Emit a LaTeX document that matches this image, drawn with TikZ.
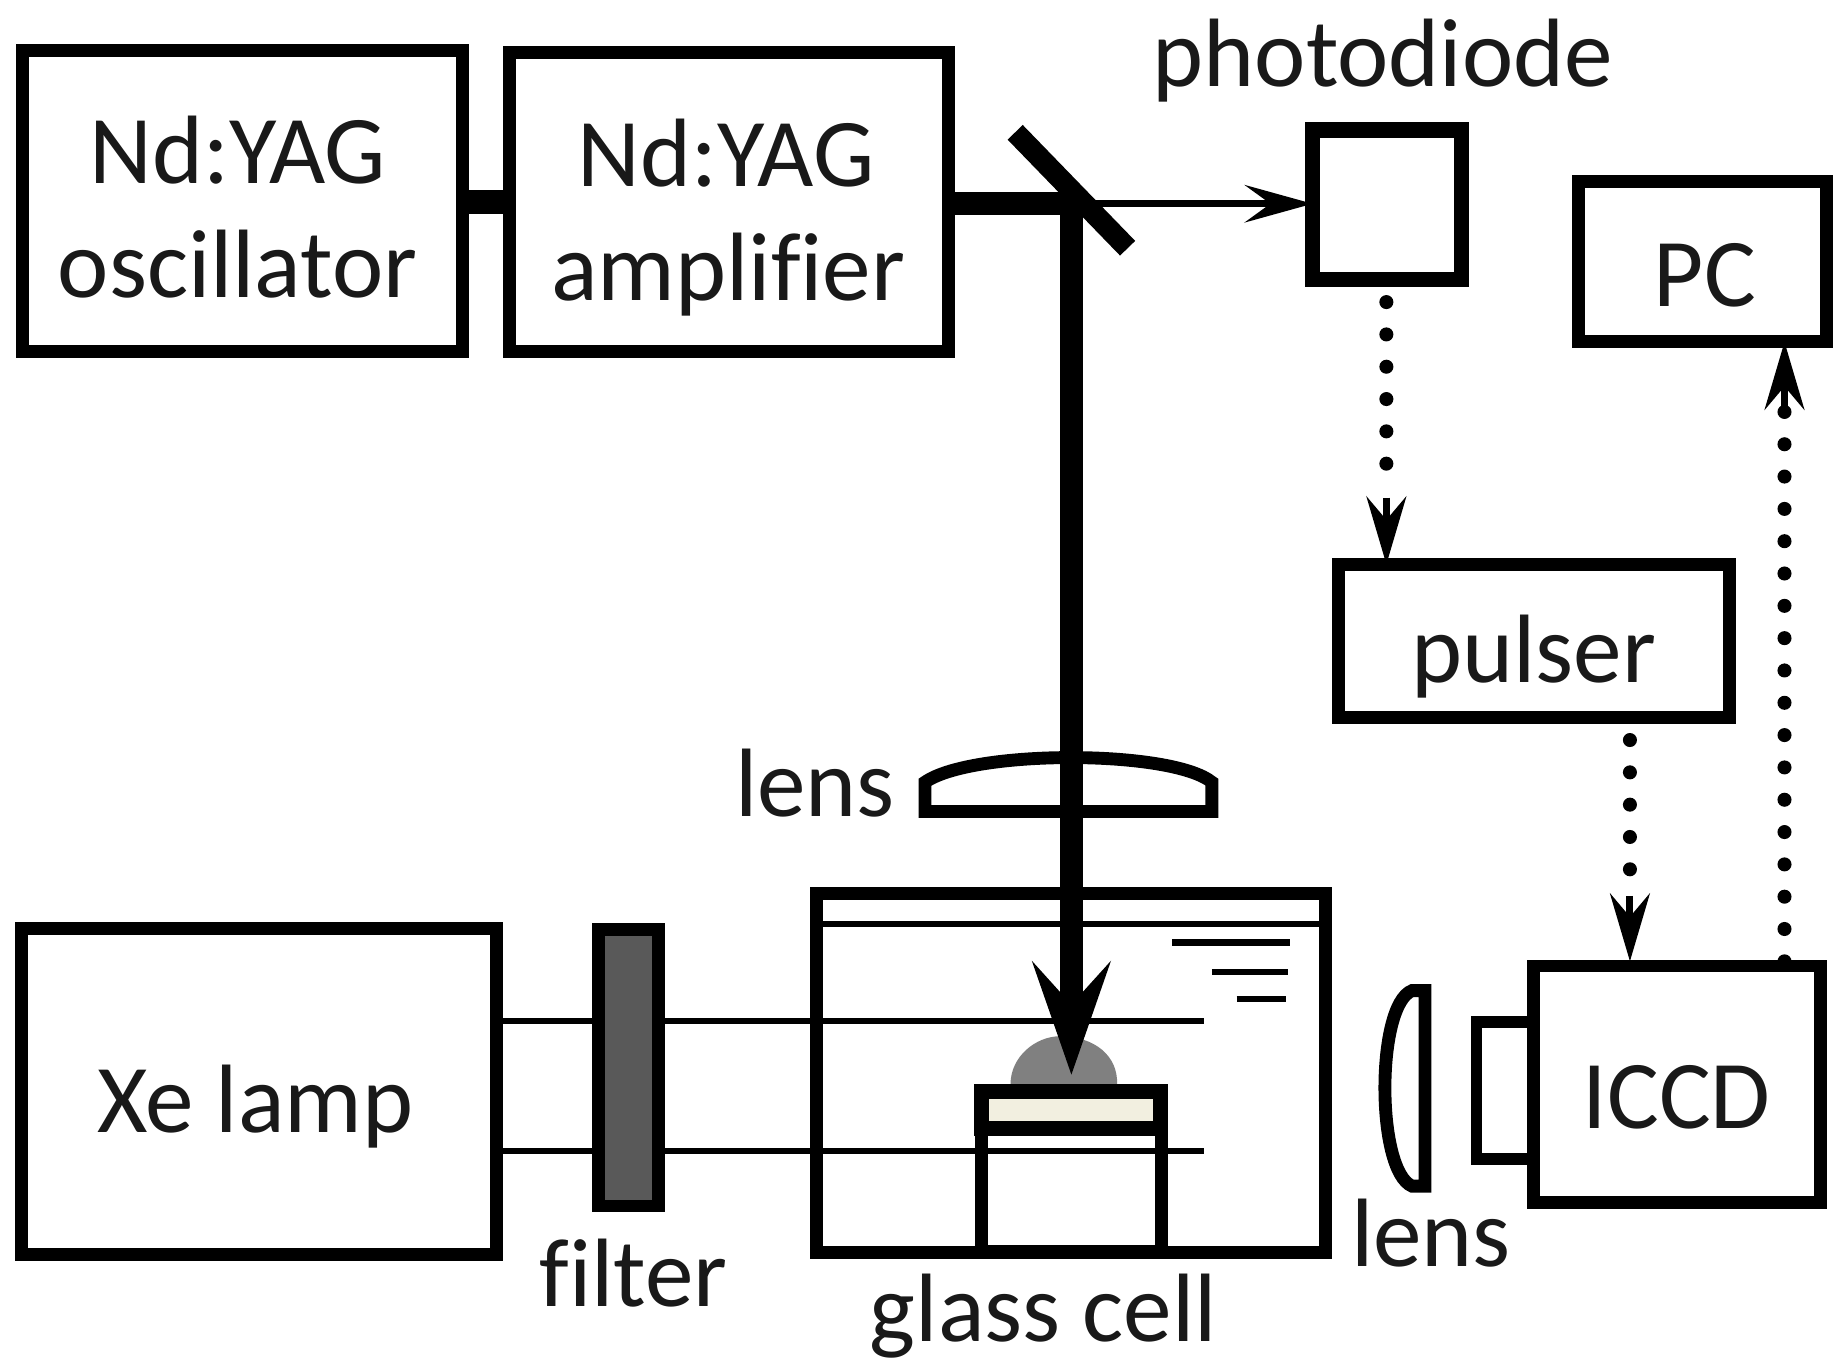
\documentclass[tikz,border=0pt]{standalone}
\usepackage{fontspec}
\setmainfont{Carlito}[Ligatures=NoCommon]
\usetikzlibrary{arrows.meta,calc}
\definecolor{plume}{HTML}{808080}
\definecolor{filterfill}{HTML}{595959}
\definecolor{samplefill}{HTML}{F2EFE0}
\tikzset{
  boxnode/.style={draw=black,line width=5.5pt,inner sep=0pt,outer sep=0pt,rectangle},
  label text/.style={font=\fontsize{41.5}{41.5}\selectfont,anchor=base,inner sep=0pt,text=black!90},
  thin beam/.style={line width=2.8pt},
  thick beam/.style={line width=10pt},
  signal/.style={line width=6pt,line cap=round,dash pattern=on 0pt off 13.8pt},
  sighead/.style={-{Stealth[length=29pt,width=17pt,inset=10pt]}},
}
\begin{document}
\begin{tikzpicture}[x=0.5pt,y=-0.5pt]
\useasboundingbox (0,0) rectangle (1568,1166);
\fill[white] (0,0) rectangle (1568,1166);
% boxes
\node[boxnode,minimum width=188pt,minimum height=128.5pt] (osc) at (207,171.5) {};
\node[boxnode,minimum width=187.5pt,minimum height=127.5pt] (amp) at (622.5,172.5) {};
\node[boxnode,line width=6.5pt,minimum width=63.5pt,minimum height=64pt] (pd) at (1184.5,175) {};
\node[boxnode,minimum width=106pt,minimum height=68.5pt] (pc) at (1454,223.5) {};
\node[boxnode,minimum width=167pt,minimum height=65.5pt] (pulser) at (1310,547.5) {};
\node[boxnode,minimum width=122.5pt,minimum height=101pt] (iccd) at (1432.5,926) {};
\node[boxnode,minimum width=203pt,minimum height=139pt] (xe) at (221,932) {};
\node[boxnode,minimum width=217.5pt,minimum height=153.5pt] (cell) at (914.5,916.5) {};
% coordinates
\coordinate (split) at (915,174);
\coordinate (mirA) at (867,113);
\coordinate (mirB) at (963,212);
\coordinate (target) at (915,918);
\coordinate (probeA) at (1028,872);
\coordinate (probeB) at (1028,983);
\coordinate (iccdin) at (1392,821);
\coordinate (iccdout) at (1524,821);
% glass cell details
\draw[thin beam] (cell.west |- 0,789) -- (cell.east |- 0,789);
\draw[thin beam] (1001,805) -- (1102,805);
\draw[thin beam] (1035,830) -- (1100,830);
\draw[thin beam] (1056,853) -- (1098,853);
% probe light
\draw[thin beam] (xe.east |- probeA) -- (probeA);
\draw[thin beam] (xe.east |- probeB) -- (probeB);
\node[boxnode,fill=filterfill,minimum width=25.5pt,minimum height=118pt] (filter) at (536.5,912) {};
% plume
\fill[plume] (863,926) .. controls (863,902) and (885,885) .. (905,885) .. controls (935,885) and (955,902) .. (954,926) -- cycle;
% sample holder
\node[boxnode,line width=5.5pt,minimum width=77pt,minimum height=52pt] (stand) at (915,1017) {};
\node[boxnode,line width=6.5pt,fill=samplefill,minimum width=76.5pt,minimum height=16pt] (sample) at (914.5,948) {};
% lenses
\draw[line width=5.5pt,miter limit=3] (790,693) -- (790,668) .. controls (830,640) and (1000,640) .. (1035,668) -- (1035,693) -- cycle;
\draw[line width=5.5pt,miter limit=3] (1217,846) -- (1217,1013) -- (1206,1013) .. controls (1175,1000) and (1175,858) .. (1206,846) -- cycle;
% camera tube
\draw[line width=5pt] (iccd.west |- 0,873) -- (1261,873) -- (1261,990) -- (iccd.west |- 0,990);
% beams
\draw[line width=10pt] (osc.east |- amp.center) -- (amp.west);
\draw[thick beam] (amp.east |- split) -- (split);
\draw[thick beam,-{Stealth[length=48pt,width=33pt,inset=18pt]}] ($(split)+(0,-5)$) -- (target);
\draw[line width=9pt] (mirA) -- (mirB);
\draw[thin beam,-{Stealth[length=29pt,width=16pt,inset=11pt]}] (935,174) -- (pd.west |- split);
% signals
\draw[signal] (pd.south -| 1184,0) ++(0,19) -- (1184,415);
\draw[sighead,line width=3pt] (1184,425) -- (pulser.north -| 1184,0);
\draw[signal] (pulser.south -| 1392,0) ++(0,19) -- (1392,750);
\draw[sighead,line width=3pt] (1392,765) -- (iccdin);
\draw[signal] (iccdout) -- (1524,345);
\draw[sighead,line width=3pt] (1524,355) -- (iccdout |- pc.south);
% texts
\node[label text] (t1) at (203,157) {Nd:YAG};
\node[label text] (t2) at (203,254) {oscillator};
\node[label text] (t3) at (620,159) {Nd:YAG};
\node[label text] (t4) at (622,257) {amplifier};
\node[label text] (t5) at (1181,74) {photodiode};
\node[label text] (t6) at (1456,262) {PC};
\node[label text] (t7) at (1310,583) {pulser};
\node[label text] (t8) at (696,697) {lens};
\node[label text] (t9) at (218,967) {Xe lamp};
\node[label text] (t10) at (541,1116) {filter};
\node[label text] (t11) at (891,1146) {glass cell};
\node[label text] (t12) at (1222,1082) {lens};
\node[label text] (t13) at (1432,964) {ICCD};
\end{tikzpicture}
\end{document}
